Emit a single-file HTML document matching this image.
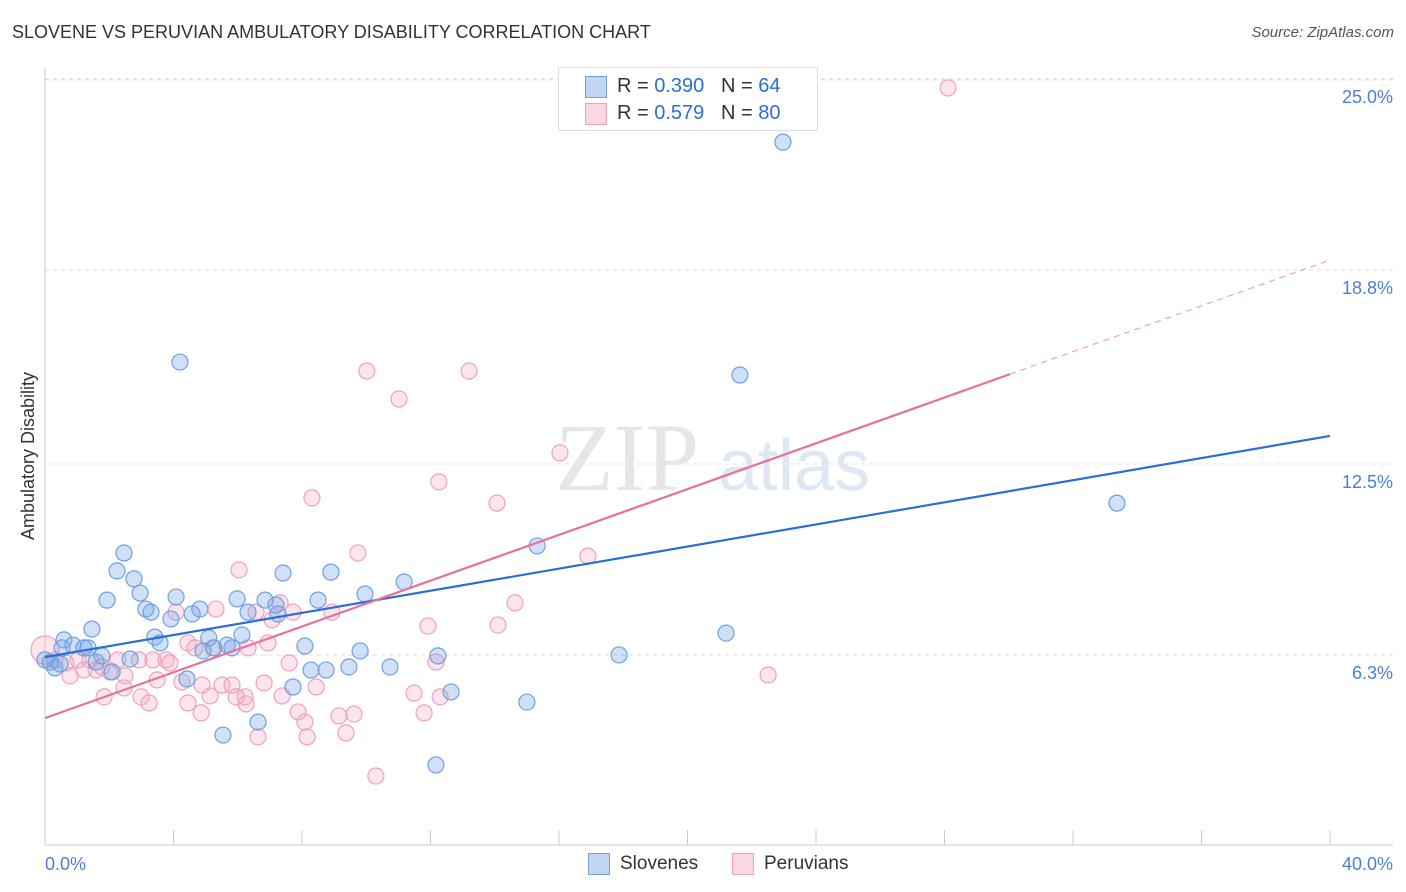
<!DOCTYPE html>
<html><head><meta charset="utf-8"><style>
body{margin:0;background:#fff;font-family:"Liberation Sans",sans-serif;}
#wrap{position:relative;width:1406px;height:892px;overflow:hidden;}
.t{position:absolute;white-space:nowrap;}
</style></head><body>
<div id="wrap">
<div class="t" style="left:12px;top:22px;font-size:18px;color:#333;">SLOVENE VS PERUVIAN AMBULATORY DISABILITY CORRELATION CHART</div>
<div class="t" style="right:12px;top:24px;font-size:15px;color:#555;font-style:italic;">Source: ZipAtlas.com</div>
<svg id="svg" width="1406" height="892" style="position:absolute;left:0;top:0"></svg>
</div>
<script>
const xTicksPct=[0,40];
const yTicks=[6.3,12.5,18.8,25.0];
const blueX=[22.97,4.20,21.63,33.37,15.32,2.46,2.24,2.77,7.41,8.90,11.18,2.96,1.93,4.08,5.98,6.85,8.50,9.96,3.14,3.30,3.92,4.82,4.58,6.32,7.19,7.25,1.46,3.42,5.10,6.13,8.09,0.59,0.87,1.21,1.34,0.53,1.77,2.65,3.58,5.26,4.92,5.82,5.67,9.81,12.23,17.87,21.20,1.59,2.09,0.16,0.31,0.47,8.28,8.75,9.46,10.74,4.42,7.72,12.64,15.00,6.63,5.54,12.17,0.0];
const blueY=[22.95,15.81,15.39,11.23,9.84,9.61,9.03,8.77,8.96,8.99,8.67,8.31,8.08,8.18,8.12,8.08,8.08,8.28,7.79,7.69,7.47,7.79,7.63,7.69,7.92,7.63,7.14,6.88,6.85,6.95,6.59,6.79,6.62,6.53,6.53,6.53,6.27,6.17,6.69,6.53,6.43,6.53,6.62,6.43,6.27,6.30,7.01,6.07,5.75,6.07,5.88,6.01,5.81,5.81,5.91,5.91,5.52,5.26,5.10,4.77,4.12,3.70,2.73,6.14];
const pinkX=[28.11,10.02,13.20,11.02,16.03,12.26,8.31,14.07,9.74,16.90,6.04,14.63,7.32,7.72,8.93,5.32,4.08,6.57,7.07,11.92,14.10,6.94,4.45,4.67,5.23,6.32,3.77,3.89,2.93,3.36,2.27,1.40,1.03,7.60,12.17,0.65,1.77,2.02,2.49,0.78,1.59,1.21,3.49,4.26,4.89,5.51,5.82,6.82,8.44,2.46,2.99,1.84,4.45,5.14,6.23,5.95,7.38,11.49,12.30,22.51,3.24,6.26,7.88,9.15,9.62,11.80,4.86,8.09,9.37,6.63,8.16,10.30,0,0.31];
const pinkY=[24.71,15.52,15.52,14.61,12.86,11.92,11.40,11.23,9.61,9.51,9.06,7.99,7.99,7.69,7.69,7.79,7.69,7.69,7.44,7.24,7.27,6.69,6.69,6.53,6.53,6.53,6.14,6.04,6.14,6.14,6.14,6.14,6.14,6.04,6.07,6.04,5.91,5.75,5.62,5.62,5.81,5.81,5.49,5.42,5.32,5.32,5.32,5.39,5.26,5.23,4.94,4.94,4.74,4.97,4.94,4.94,4.97,5.06,4.94,5.65,4.74,4.71,4.45,4.32,4.38,4.42,4.42,4.12,3.77,3.64,3.64,2.37,6.46,6.14];
const blueTrend=[6.23,13.41];
const pinkTrend=[4.25,19.12];
const pinkSolidEnd=30.04;
const X=v=>45+v*32.125, Y=v=>849-v*30.8;
const s=document.getElementById('svg');const NS='http://www.w3.org/2000/svg';
function mk(tag,a){const e=document.createElementNS(NS,tag);for(const k in a)e.setAttribute(k,a[k]);s.appendChild(e);return e;}
yTicks.forEach(v=>{const g=mk('line',{x1:45,x2:1393,y1:Y(v),y2:Y(v),stroke:'#dcdcdc','stroke-dasharray':'4,4'});


const t=mk('text',{x:1393,y:Y(v)+24,'text-anchor':'end','font-size':18,fill:'#4a7fd6','font-family':'Liberation Sans'});t.textContent=v.toFixed(1)+'%';

});
const gt=mk('line',{x1:45,x2:1393,y1:Y(25)+1,y2:Y(25)+1,stroke:'#dcdcdc','stroke-dasharray':'4,4'});


const ax=mk('line',{x1:45,x2:1393,y1:845,y2:845,stroke:'#ccc'});


const ay=mk('line',{x1:45,x2:45,y1:68,y2:845,stroke:'#ccc'});


for(let i=0;i<=10;i++){const tk=mk('line',{x1:X(i*4),x2:X(i*4),y1:830,y2:845,stroke:'#ccc'});

}
xTicksPct.forEach((v,i)=>{const t=mk('text',{x:i?1393:45,y:870,'text-anchor':i?'end':'start','font-size':18,fill:'#4a7fd6','font-family':'Liberation Sans'});t.textContent=v.toFixed(1)+'%';

});
const yt=mk('text',{x:34,y:456,'text-anchor':'middle','font-size':18,fill:'#333',transform:'rotate(-90 34 456)','font-family':'Liberation Sans'});yt.textContent='Ambulatory Disability';


const w1=mk('text',{x:555,y:490,'font-size':96,fill:'#e6e6e6','font-family':'Liberation Serif'});w1.textContent='ZIP';


const w2=mk('text',{x:718,y:490,'font-size':72,fill:'#dde8f5','font-family':'Liberation Sans'});w2.textContent='atlas';


pinkX.forEach((v,i)=>{const c=mk('circle',{cx:X(v),cy:Y(pinkY[i]),r:i==72?14:8,fill:'rgba(245,170,195,0.3)',stroke:'#f0a0bc','stroke-width':1.2});

});
blueX.forEach((v,i)=>{const c=mk('circle',{cx:X(v),cy:Y(blueY[i]),r:8,fill:'rgba(120,165,230,0.35)',stroke:'#6fa0e0','stroke-width':1.2});

});
const bl=mk('line',{x1:X(0),y1:Y(blueTrend[0]),x2:X(40),y2:Y(blueTrend[1]),stroke:'#2a6fd6','stroke-width':2.2});


const pe=blueTrend&&(pinkTrend[0]+(pinkTrend[1]-pinkTrend[0])*pinkSolidEnd/40);
const pl=mk('line',{x1:X(0),y1:Y(pinkTrend[0]),x2:X(pinkSolidEnd),y2:Y(pe),stroke:'#e8709a','stroke-width':2.2});


const pd=mk('line',{x1:X(pinkSolidEnd),y1:Y(pe),x2:X(40),y2:Y(pinkTrend[1]),stroke:'#f0a0bc','stroke-width':1.2,'stroke-dasharray':'6,5'});


</script>
<div class="t" style="left:558px;top:67px;width:258px;height:62px;border:1px solid #ddd;background:#fff;">
 <div class="t" style="left:26px;top:8px;width:20px;height:20px;background:rgba(120,165,230,0.45);border:1px solid #6fa0e0;"></div>
 <div class="t" style="left:58px;top:7px;font-size:20px;color:#333;">R = <span style="color:#2a6fd6">0.390</span>&nbsp;&nbsp;&nbsp;N = <span style="color:#2a6fd6">64</span></div>
 <div class="t" style="left:26px;top:35px;width:20px;height:20px;background:rgba(245,170,195,0.45);border:1px solid #f0a0bc;"></div>
 <div class="t" style="left:58px;top:34px;font-size:20px;color:#333;">R = <span style="color:#2a6fd6">0.579</span>&nbsp;&nbsp;&nbsp;N = <span style="color:#2a6fd6">80</span></div>
</div>
<div class="t" style="left:588px;top:853px;width:20px;height:20px;background:rgba(120,165,230,0.45);border:1px solid #6fa0e0;"></div>
<div class="t" style="left:620px;top:853px;font-size:19px;color:#333;">Slovenes</div>
<div class="t" style="left:732px;top:853px;width:20px;height:20px;background:rgba(245,170,195,0.45);border:1px solid #f0a0bc;"></div>
<div class="t" style="left:764px;top:853px;font-size:19px;color:#333;">Peruvians</div>
</body></html>
